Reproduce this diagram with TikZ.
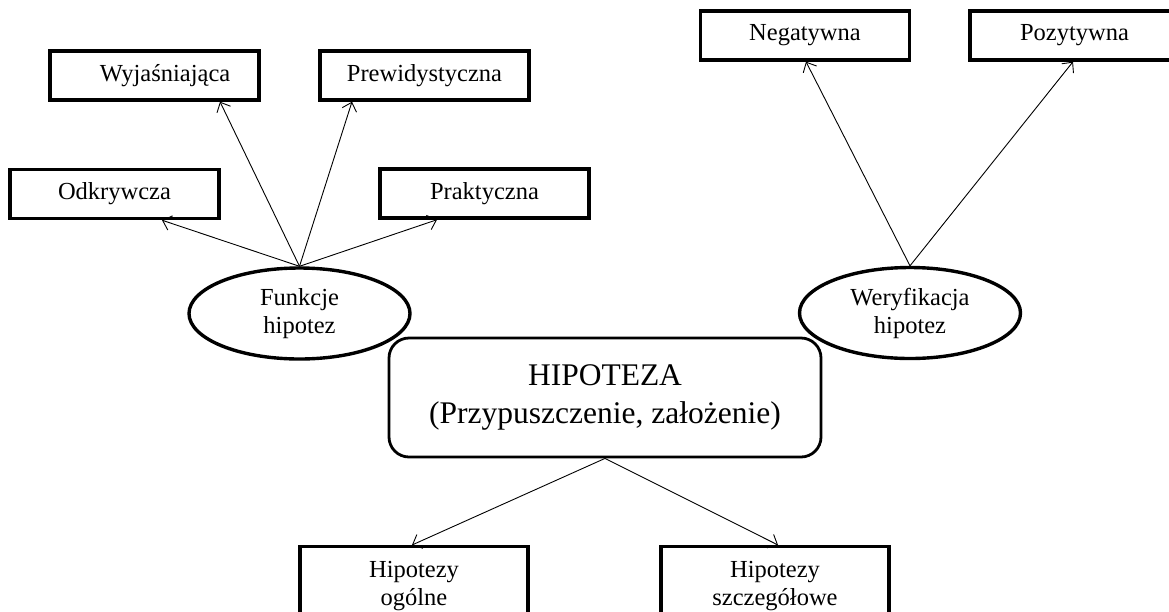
\documentclass[tikz,border=0pt]{standalone}
\usepackage{fontspec}
\setmainfont{Liberation Serif}
\usetikzlibrary{arrows.meta,shapes.geometric}
\tikzset{
  box/.style={draw, line width=3.4pt, rectangle, minimum width=209pt, minimum height=49pt,
    inner sep=0pt, font=\fontsize{24.5}{28}\selectfont},
  lowbox/.style={draw, line width=3.4pt, rectangle, minimum width=228pt, anchor=north,
    inner xsep=0pt, inner ysep=15pt, align=center, font=\fontsize{24.5}{28}\selectfont},
  oval/.style={draw, line width=3.4pt, ellipse, minimum width=221pt, minimum height=91pt,
    inner sep=0pt, align=center, font=\fontsize{24.5}{28}\selectfont},
  mainbox/.style={draw, line width=2.8pt, rectangle, rounded corners=20pt,
    minimum width=432pt, minimum height=119pt, align=center,
    font=\fontsize{31.5}{37.5}\selectfont},
  arr/.style={line width=0.9pt, -{Straight Barb[length=8pt,width=15pt,line width=0.9pt]}}
}
\begin{document}
\begin{tikzpicture}[x=1pt,y=-1pt]
\path[use as bounding box] (0,0) rectangle (1169,611);
\clip (0,0) rectangle (1169,611);

\node[box] (wyj) at (154.5,75.5) {\hspace*{21pt}Wyjaśniająca};
\node[box] (pre) at (424.5,75.5) {Prewidystyczna};
\node[box] (odk) at (114.5,194) {Odkrywcza};
\node[box] (pra) at (484.5,193.5) {Praktyczna};
\node[box] (neg) at (805,35.5) {Negatywna};
\node[box] (poz) at (1074.5,35.5) {Pozytywna};

\node[oval] (fun) at (299.5,313.5) {Funkcje\\hipotez};
\node[oval] (wer) at (910,313) {Weryfikacja\\hipotez};

\node[mainbox] (hip) at (605,397.5) {HIPOTEZA\\(Przypuszczenie, założenie)};

\node[lowbox] (ogol) at (414,545) {Hipotezy\\ogólne};
\node[lowbox] (szcz) at (775,545) {Hipotezy\\szczegółowe};

\draw[arr] (fun.north) -- ([xshift=47.5pt]odk.south);
\draw[arr] (fun.north) -- ([xshift=65.5pt]wyj.south);
\draw[arr] (fun.north) -- ([xshift=-72.5pt]pre.south);
\draw[arr] (fun.north) -- ([xshift=-47.5pt]pra.south);
\draw[arr] (wer.north) -- ([xshift=1pt]neg.south);
\draw[arr] (wer.north) -- ([xshift=-1.5pt]poz.south);
\draw[arr] (hip.south) -- ([xshift=-2pt]ogol.north);
\draw[arr] (hip.south) -- ([xshift=3pt]szcz.north);
\end{tikzpicture}
\end{document}
